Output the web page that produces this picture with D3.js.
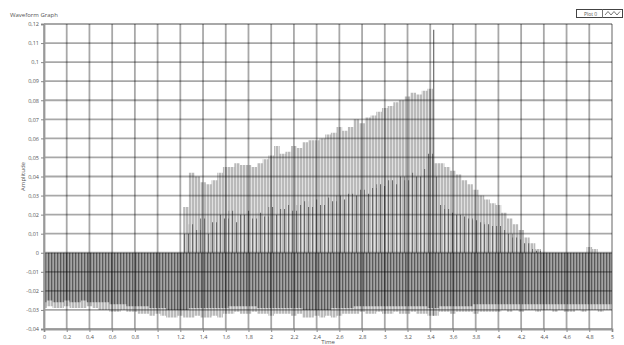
<!DOCTYPE html>
<html>
<head>
<meta charset="utf-8">
<script src="https://cdn.jsdelivr.net/npm/d3@7"></script>
<style>
  body { margin: 0; background: #fff; }
  text { font-family: "Open Sans", "Liberation Sans", sans-serif; fill: #555; }
</style>
</head>
<body>
<svg id="chart" width="624" height="345"></svg>
<script>
// sample times (s), one every 0.05
const times = [
  0, 0.05, 0.1, 0.15, 0.2, 0.25, 0.3, 0.35, 0.4, 0.45,
  0.5, 0.55, 0.6, 0.65, 0.7, 0.75, 0.8, 0.85, 0.9, 0.95,
  1, 1.05, 1.1, 1.15, 1.2, 1.25, 1.3, 1.35, 1.4, 1.45,
  1.5, 1.55, 1.6, 1.65, 1.7, 1.75, 1.8, 1.85, 1.9, 1.95,
  2, 2.05, 2.1, 2.15, 2.2, 2.25, 2.3, 2.35, 2.4, 2.45,
  2.5, 2.55, 2.6, 2.65, 2.7, 2.75, 2.8, 2.85, 2.9, 2.95,
  3, 3.05, 3.1, 3.15, 3.2, 3.25, 3.3, 3.35, 3.4, 3.45,
  3.5, 3.55, 3.6, 3.65, 3.7, 3.75, 3.8, 3.85, 3.9, 3.95,
  4, 4.05, 4.1, 4.15, 4.2, 4.25, 4.3, 4.35, 4.4, 4.45,
  4.5, 4.55, 4.6, 4.65, 4.7, 4.75, 4.8, 4.85, 4.9, 4.95, 5
];

// light grey peaks (upper envelope)
const upperPeak = [
  0, 0, 0, 0, 0, 0, 0, 0, 0, 0,
  0, 0, 0, 0, 0, 0, 0, 0, 0, 0,
  0, 0, 0, 0, 0, 0.024, 0.042, 0.040, 0.037, 0.036,
  0.038, 0.042, 0.045, 0.045, 0.047, 0.046, 0.046, 0.045, 0.047, 0.049,
  0.051, 0.056, 0.052, 0.053, 0.056, 0.055, 0.058, 0.059, 0.059, 0.060,
  0.062, 0.063, 0.066, 0.064, 0.066, 0.070, 0.068, 0.071, 0.072, 0.074,
  0.076, 0.077, 0.079, 0.080, 0.082, 0.084, 0.083, 0.085, 0.086, 0.047,
  0.047, 0.045, 0.043, 0.041, 0.038, 0.036, 0.033, 0.030, 0.028, 0.026,
  0.025, 0.021, 0.018, 0.015, 0.012, 0.008, 0.005, 0.002, 0, 0,
  0, 0, 0, 0, 0, 0, 0.003, 0.002, 0, 0, 0
];

// darker inner spikes
const darkPeak = [
  0, 0, 0, 0, 0, 0, 0, 0, 0, 0,
  0, 0, 0, 0, 0, 0, 0, 0, 0, 0,
  0, 0, 0, 0, 0, 0.010, 0.015, 0.012, 0.018, 0.010,
  0.016, 0.020, 0.018, 0.022, 0.016, 0.020, 0.022, 0.018, 0.021, 0.019,
  0.024, 0.020, 0.023, 0.025, 0.022, 0.025, 0.027, 0.024, 0.028, 0.025,
  0.029, 0.027, 0.030, 0.028, 0.031, 0.030, 0.033, 0.031, 0.034, 0.036,
  0.035, 0.038, 0.036, 0.040, 0.038, 0.042, 0.040, 0.044, 0.052, 0.040,
  0.025, 0.023, 0.021, 0.020, 0.019, 0.018, 0.017, 0.016, 0.015, 0.014,
  0.014, 0.012, 0.010, 0.008, 0.007, 0.005, 0.002, 0.001, 0, 0,
  0, 0, 0, 0, 0, 0, 0, 0, 0, 0, 0
];

// bottom of the dark body
const darkLow = [
  -0.026, -0.025, -0.026, -0.026, -0.025, -0.026, -0.026, -0.025, -0.026, -0.026,
  -0.026, -0.026, -0.027, -0.027, -0.027, -0.028, -0.028, -0.028, -0.028, -0.029,
  -0.029, -0.029, -0.030, -0.030, -0.030, -0.030, -0.029, -0.029, -0.029, -0.029,
  -0.029, -0.029, -0.029, -0.028, -0.028, -0.028, -0.028, -0.028, -0.029, -0.029,
  -0.029, -0.029, -0.029, -0.029, -0.029, -0.029, -0.030, -0.030, -0.030, -0.030,
  -0.030, -0.029, -0.029, -0.029, -0.029, -0.028, -0.028, -0.028, -0.028, -0.028,
  -0.028, -0.028, -0.028, -0.028, -0.028, -0.028, -0.028, -0.028, -0.029, -0.029,
  -0.028, -0.028, -0.028, -0.028, -0.028, -0.028, -0.027, -0.027, -0.027, -0.027,
  -0.027, -0.027, -0.027, -0.027, -0.027, -0.027, -0.027, -0.027, -0.027, -0.027,
  -0.027, -0.027, -0.027, -0.027, -0.027, -0.027, -0.027, -0.027, -0.027, -0.027, -0.027
];

// lowest light grey tips (lower envelope)
const lowerPeak = [
  -0.029, -0.028, -0.029, -0.029, -0.028, -0.029, -0.029, -0.029, -0.028, -0.029,
  -0.030, -0.030, -0.031, -0.031, -0.030, -0.031, -0.031, -0.032, -0.032, -0.033,
  -0.032, -0.033, -0.034, -0.034, -0.033, -0.034, -0.034, -0.033, -0.034, -0.034,
  -0.033, -0.034, -0.032, -0.032, -0.031, -0.032, -0.032, -0.031, -0.032, -0.032,
  -0.033, -0.032, -0.032, -0.032, -0.033, -0.032, -0.034, -0.034, -0.033, -0.034,
  -0.033, -0.034, -0.033, -0.032, -0.032, -0.032, -0.031, -0.032, -0.032, -0.031,
  -0.032, -0.032, -0.031, -0.032, -0.032, -0.031, -0.032, -0.032, -0.033, -0.033,
  -0.031, -0.031, -0.032, -0.031, -0.031, -0.031, -0.032, -0.031, -0.031, -0.031,
  -0.031, -0.030, -0.031, -0.030, -0.031, -0.030, -0.030, -0.031, -0.030, -0.030,
  -0.031, -0.030, -0.031, -0.031, -0.030, -0.031, -0.030, -0.030, -0.031, -0.030, -0.030
];

// the single tall spike
const spikeTime = [3.43];
const spikeTop = [0.117];
const spikeBottom = [-0.033];

const xTicks = [0, 0.2, 0.4, 0.6, 0.8, 1, 1.2, 1.4, 1.6, 1.8, 2, 2.2, 2.4, 2.6, 2.8, 3, 3.2, 3.4, 3.6, 3.8, 4, 4.2, 4.4, 4.6, 4.8, 5];
const xTickLabels = ['0', '0,2', '0,4', '0,6', '0,8', '1', '1,2', '1,4', '1,6', '1,8', '2', '2,2', '2,4', '2,6', '2,8', '3', '3,2', '3,4', '3,6', '3,8', '4', '4,2', '4,4', '4,6', '4,8', '5'];
const yTicks = [-0.04, -0.03, -0.02, -0.01, 0, 0.01, 0.02, 0.03, 0.04, 0.05, 0.06, 0.07, 0.08, 0.09, 0.1, 0.11, 0.12];
const yTickLabels = ['-0,04', '-0,03', '-0,02', '-0,01', '0', '0,01', '0,02', '0,03', '0,04', '0,05', '0,06', '0,07', '0,08', '0,09', '0,1', '0,11', '0,12'];

const svg = d3.select('#chart');
const x = d3.scaleLinear().domain([0, 5]).range([44, 612]);
const y = d3.scaleLinear().domain([-0.04, 0.12]).range([329, 24]);

// stripe patterns to mimic dense vertical samples
const defs = svg.append('defs');
function stripes(id, w, bg, fg, lw) {
  const p = defs.append('pattern').attr('id', id)
    .attr('patternUnits', 'userSpaceOnUse').attr('width', w).attr('height', 8);
  if (bg) p.append('rect').attr('width', w).attr('height', 8).attr('fill', bg);
  p.append('rect').attr('width', lw).attr('height', 8).attr('fill', fg);
}
stripes('light', 3, '#e0e0e0', '#bababa', 2);
stripes('body', 3, '#a4a4a4', '#5a5a5a', 1.3);
stripes('spikes', 4, null, '#6a6a6a', 1.1);

const idx = d3.range(times.length);
const area = (lo, hi) => d3.area()
  .x(i => x(times[i]))
  .y0(i => y(lo[i]))
  .y1(i => y(hi[i]))
  .curve(d3.curveStep);

const zero = times.map(() => 0);

svg.append('path').datum(idx).attr('d', area(lowerPeak, upperPeak)).attr('fill', 'url(#light)');
svg.append('path').datum(idx).attr('d', area(darkLow, zero)).attr('fill', 'url(#body)');
svg.append('path').datum(idx).attr('d', area(zero, darkPeak)).attr('fill', 'url(#spikes)');

svg.selectAll('.spike').data(spikeTime).enter().append('line')
  .attr('x1', d => x(d)).attr('x2', d => x(d))
  .attr('y1', (d, i) => y(spikeTop[i])).attr('y2', (d, i) => y(spikeBottom[i]))
  .attr('stroke', '#777').attr('stroke-width', 1.3);

// grid on top, semi transparent so it darkens over the data
svg.append('g').selectAll('line').data(xTicks).enter().append('line')
  .attr('x1', d => x(d)).attr('x2', d => x(d))
  .attr('y1', y(0.12)).attr('y2', y(-0.04))
  .attr('stroke', 'rgba(0,0,0,0.34)').attr('stroke-width', 1.8);
svg.append('g').selectAll('line').data(yTicks).enter().append('line')
  .attr('x1', x(0)).attr('x2', x(5))
  .attr('y1', d => y(d)).attr('y2', d => y(d))
  .attr('stroke', 'rgba(0,0,0,0.34)').attr('stroke-width', 1.8);

// axes
const yAxis = svg.append('g').attr('transform', `translate(${x(0)},0)`)
  .call(d3.axisLeft(y).tickValues(yTicks).tickFormat((d, i) => yTickLabels[i]).tickSize(3).tickPadding(2));
const xAxis = svg.append('g').attr('transform', `translate(0,${y(-0.04)})`)
  .call(d3.axisBottom(x).tickValues(xTicks).tickFormat((d, i) => xTickLabels[i]).tickSize(3).tickPadding(3));
[yAxis, xAxis].forEach(a => {
  a.select('.domain').attr('stroke', '#999').attr('stroke-width', 1.8);
  a.selectAll('.tick line').attr('stroke', '#888');
  a.selectAll('.tick text').style('font-size', '5.5px').attr('fill', '#555')
    .style('font-family', '"Open Sans", "Liberation Sans", sans-serif');
});

// titles
svg.append('text').attr('x', 10).attr('y', 16.5).style('font-size', '6px').text('Waveform Graph');
svg.append('text').attr('transform', `translate(25,${(y(0.12) + y(-0.04)) / 2}) rotate(-90)`)
  .attr('text-anchor', 'middle').style('font-size', '6px').text('Amplitude');
svg.append('text').attr('x', (x(0) + x(5)) / 2).attr('y', 343.5)
  .attr('text-anchor', 'middle').style('font-size', '6px').text('Time');

// legend
const leg = svg.append('g');
leg.append('rect').attr('x', 576.5).attr('y', 9.5).attr('width', 46).attr('height', 8)
  .attr('fill', '#fff').attr('stroke', '#444').attr('stroke-width', 1);
leg.append('text').attr('x', 584).attr('y', 15.6).style('font-size', '5px').attr('fill', '#333').text('Plot 0');
leg.append('line').attr('x1', 602.5).attr('x2', 602.5).attr('y1', 9.5).attr('y2', 17.5).attr('stroke', '#777');
leg.append('path').attr('d', 'M605,15 L608,11.5 L611,15 L614,11.5 L617,15 L620,11.5')
  .attr('fill', 'none').attr('stroke', '#555').attr('stroke-width', 0.8);
</script>
</body>
</html>
